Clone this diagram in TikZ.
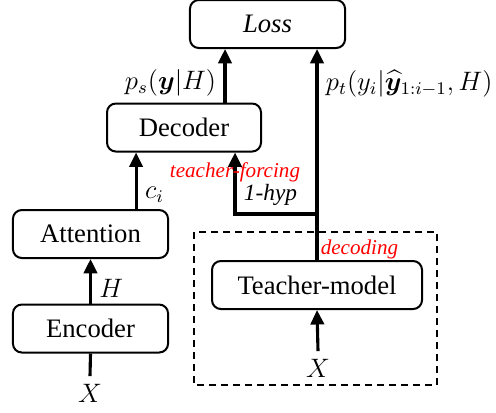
\documentclass[tikz,border=0pt]{standalone}
\usepackage{fontspec}
\setmainfont{Liberation Serif}
\usepackage{amsmath,bm}
\usetikzlibrary{arrows.meta}

\begin{document}
\begin{tikzpicture}[x=0.45pt, y=-0.45pt, font=\fontsize{12}{14}\selectfont,
   >={Triangle[width=6pt,length=6.5pt]},
   blk/.style={rectangle, draw, line width=0.9pt, rounded corners=4pt, inner sep=2pt, minimum height=21.6pt},
   arr/.style={->, line width=1.4pt},
   note/.style={text=red, font=\fontsize{9.5}{11}\selectfont\itshape, inner sep=1pt}]
  \useasboundingbox (0,0) rectangle (496,412);
  % boxes
  \node[blk, minimum width=69.8pt] (loss)  at (267.5,24)  {\textit{Loss}};
  \node[blk, minimum width=69.3pt] (dec)   at (184,127.5) {Decoder};
  \node[blk, minimum width=69.8pt] (att)   at (90.5,234)  {Attention};
  \node[blk, minimum width=69.8pt] (enc)   at (90.5,328.5) {Encoder};
  \node[blk, minimum width=94.5pt] (teach) at (317,285)   {Teacher-model};
  \draw[line width=0.9pt, dash pattern=on 3.2pt off 2.2pt] (194,232) rectangle (437,385);
  \node (x1) at (90,393)  {$X$};
  \node (x2) at (318,368) {$X$};
  \coordinate (psbot) at ([xshift=-16.65pt]dec.north east);
  \coordinate (cibot) at ([xshift=-14.85pt]att.north east);
  \coordinate (split) at (317,214);
  \coordinate (hyp)   at (235,214);
  % student side
  \draw[line width=1.4pt] (x1.north) -- (enc.south);
  \draw[arr] (enc.north) -- (att.south) node[pos=0.35, right] {$H$};
  \draw[arr] (cibot) -- (cibot |- dec.south) node[pos=0.26, right] {$c_i$};
  \draw[arr] (psbot) -- (psbot |- loss.south) node[pos=0.36, left] {$p_s(\bm{y}|H)$};
  % teacher side
  \draw[arr] (x2.north) -- (teach.south);
  \draw[line width=1.4pt] (teach.north) -- (split) node[pos=0.23, right, note] {decoding};
  \draw[arr] (split) -- (split |- loss.south)
    node[pos=0.79, right] {$p_t(y_i|\widehat{\bm{y}}_{1:i-1},H)$};
  \draw[arr] (split) -- (hyp) -- (hyp |- dec.south)
    node[pos=0.68, note] {teacher-forcing}
    node[pos=0.31, right, font=\fontsize{10.5}{12}\selectfont\itshape] {1-hyp};
\end{tikzpicture}
\end{document}
